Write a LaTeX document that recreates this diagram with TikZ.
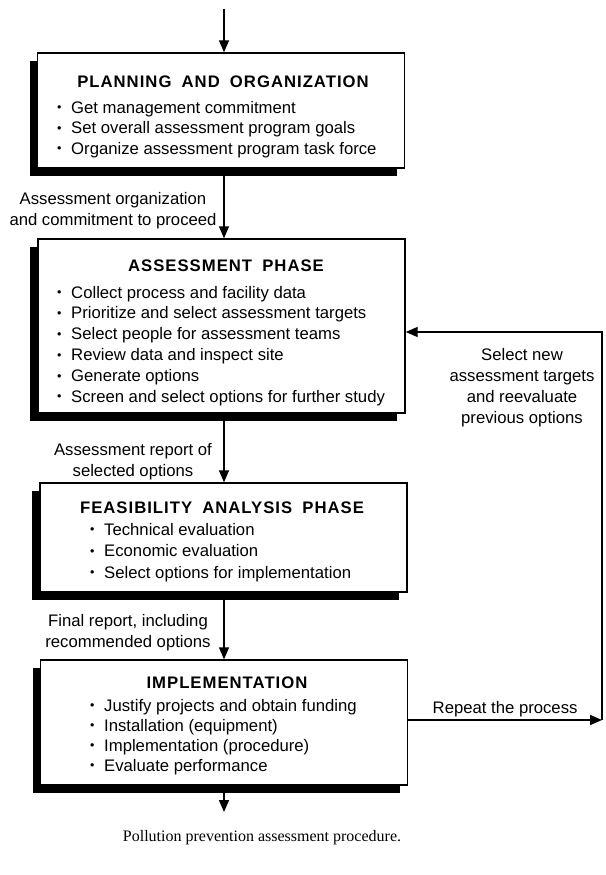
\documentclass[tikz,border=0pt]{standalone}
\usepackage{fontspec}
\setmainfont{Liberation Sans}
\newfontfamily\titlefont[LetterSpace=6,WordSpace=1.8]{Liberation Sans}
\newfontfamily\capfont{Liberation Serif}
\usetikzlibrary{arrows.meta,positioning,shadows}
\tikzset{
  phase/.style={draw=black, line width=1.4pt, fill=white, minimum width=367pt, inner sep=0pt,
    drop shadow={shadow xshift=-8pt, shadow yshift=-8pt, fill=black, opacity=1}},
  heading/.style={font=\titlefont\bfseries\fontsize{16.7}{20}\selectfont, anchor=base, inner sep=0pt},
  item/.style={font=\fontsize{16.7}{20}\selectfont, anchor=base west, inner sep=0pt},
  note/.style={font=\fontsize{16.7}{21}\selectfont, align=center, inner sep=0pt},
  flow/.style={-{Triangle[length=12pt, width=10pt]}, line width=1.4pt}
}
\newcommand{\bul}{\makebox[14pt][l]{\raisebox{0.13ex}{\scalebox{0.75}{\textbullet}}}}

\begin{document}
\begin{tikzpicture}[x=1pt, y=-1pt]
  \useasboundingbox (0,0) rectangle (605,875);
  \coordinate (start) at (224,9);
  \coordinate (finish) at (224,812);
  \coordinate (loopbot) at (602,720);
  \coordinate (looptop) at (602,332);

  \node[phase, minimum height=115pt] (plan) at (221,110.5) {};
  \node[heading] (plan-t) at (223,88) {PLANNING AND ORGANIZATION};
  \foreach \t [count=\i] in {Get management commitment, Set overall assessment program goals,
    Organize assessment program task force}
    \node[item] (plan-\i) at (57,92.5+\i*20.5) {\bul\t};

  \node[phase, minimum height=174pt] (assess) at (221.5,326) {};
  \node[heading] (assess-t) at (226,271) {ASSESSMENT PHASE};
  \foreach \t [count=\i] in {Collect process and facility data, Prioritize and select assessment targets,
    Select people for assessment teams, Review data and inspect site, Generate options,
    Screen and select options for further study}
    \node[item] (assess-\i) at (57,277.2+\i*20.8) {\bul\t};

  \node[phase, minimum height=109pt] (feas) at (223.5,537.5) {};
  \node[heading] (feas-t) at (222,513) {FEASIBILITY ANALYSIS PHASE};
  \foreach \t [count=\i] in {Technical evaluation, Economic evaluation, Select options for implementation}
    \node[item] (feas-\i) at (90,513.5+\i*21.5) {\bul\t};

  \node[phase, minimum height=125pt] (impl) at (224,722.5) {};
  \node[heading] (impl-t) at (227,688) {IMPLEMENTATION};
  \foreach \t [count=\i] in {Justify projects and obtain funding, Installation (equipment),
    Implementation (procedure), Evaluate performance}
    \node[item] (impl-\i) at (90,691+\i*20) {\bul\t};

  \node[note] (org) at (113,211) {Assessment organization\\and commitment to proceed};
  \node[note] (rep) at (133,462) {Assessment report of\\selected options};
  \node[note] (fin) at (128,633) {Final report, including\\recommended options};
  \node[note] (new) at (522,388) {Select new\\assessment targets\\and reevaluate\\previous options};
  \node[font=\capfont\fontsize{16}{19}\selectfont] (cap) at (262,838) {Pollution prevention assessment procedure.};

  \draw[flow] (start) -- (plan.north -| start);
  \draw[flow] (plan.south -| start) -- (assess.north -| start);
  \draw[flow] (assess.south -| start) -- (feas.north -| start);
  \draw[flow] (feas.south -| start) -- (impl.north -| start);
  \draw[flow] (impl.south -| start) -- (finish);
  \draw[flow] (impl.east |- loopbot) -- (loopbot)
    node[midway, above=2pt, font=\fontsize{16.7}{20}\selectfont, inner sep=0pt] (again) {Repeat the process};
  \draw[flow] (loopbot) -- (looptop) -- (assess.east |- looptop);
\end{tikzpicture}
\end{document}
